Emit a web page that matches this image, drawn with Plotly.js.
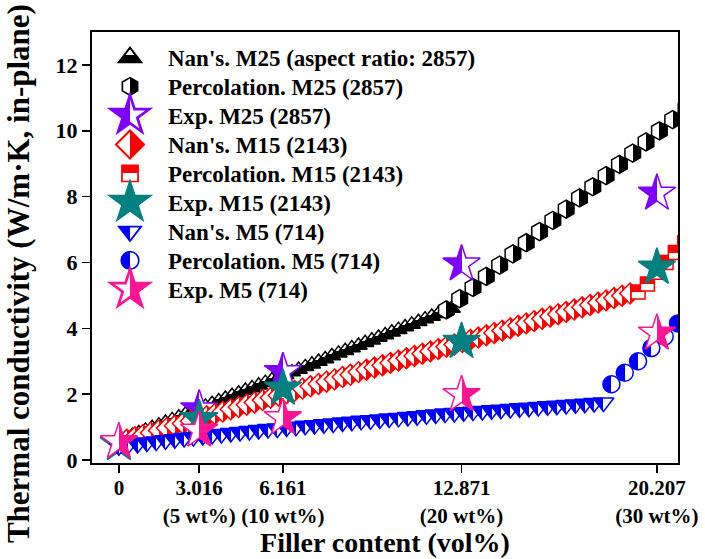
<!DOCTYPE html>
<html>
<head>
<meta charset="utf-8">
<script src="https://cdn.plot.ly/plotly-3.0.1.min.js"></script>
<style>html,body{margin:0;padding:0;background:#fff;}#chart{width:705px;height:559px;}</style>
</head>
<body>
<div id="chart"></div>
<script>
// ---- data ----
var tickVals = [0, 3.016, 6.161, 12.871, 20.207];
var tickText = ['0', '3.016<br>(5 wt%)', '6.161<br>(10 wt%)', '12.871<br>(20 wt%)', '20.207<br>(30 wt%)'];

var nanM25X = [0,0.25,0.5,0.75,1,1.25,1.5,1.75,2,2.25,2.5,2.75,3,3.25,3.5,3.75,4,4.25,4.5,4.75,5,5.25,5.5,5.75,6,6.25,6.5,6.75,7,7.25,7.5,7.75,8,8.25,8.5,8.75,9,9.25,9.5,9.75,10,10.25,10.5,10.75,11,11.25,11.5,11.75,12,12.25,12.5];
var nanM25Y = [0.58,0.66,0.74,0.82,0.90,0.98,1.06,1.14,1.22,1.30,1.39,1.47,1.55,1.63,1.71,1.79,1.87,1.95,2.03,2.11,2.19,2.27,2.35,2.43,2.51,2.59,2.67,2.75,2.83,2.91,2.99,3.07,3.16,3.24,3.32,3.40,3.48,3.56,3.64,3.72,3.80,3.88,3.96,4.04,4.12,4.20,4.28,4.36,4.44,4.52,4.60];

var percM25X = [12.3,12.8,13.3,13.8,14.3,14.8,15.3,15.8,16.3,16.8,17.3,17.8,18.3,18.8,19.3,19.8,20.3,20.8,21.3];
var percM25Y = [4.56,4.90,5.24,5.58,5.92,6.26,6.60,6.94,7.28,7.62,7.96,8.30,8.64,8.98,9.32,9.66,10.00,10.34,10.68];

var expX = [0, 3.016, 6.161, 12.871, 20.207];
var expM25Y = [0.50, 1.55, 2.68, 5.95, 8.10];
var expM15Y = [0.50, 1.25, 2.18, 3.60, 5.85];
var expM5Y  = [0.55, 0.90, 1.28, 1.98, 3.85];

var nanM15X = [0,0.3,0.6,0.9,1.2,1.5,1.8,2.1,2.4,2.7,3.0,3.3,3.6,3.9,4.2,4.5,4.8,5.1,5.4,5.7,6.0,6.3,6.6,6.9,7.2,7.5,7.8,8.1,8.4,8.7,9.0,9.3,9.6,9.9,10.2,10.5,10.8,11.1,11.4,11.7,12.0,12.3,12.6,12.9,13.2,13.5,13.8,14.1,14.4,14.7,15.0,15.3,15.6,15.9,16.2,16.5,16.8,17.1,17.4,17.7,18.0,18.3,18.6,18.9,19.2];
var nanM15Y = [0.55,0.62,0.69,0.76,0.83,0.90,0.97,1.04,1.11,1.18,1.26,1.33,1.40,1.47,1.54,1.61,1.68,1.75,1.82,1.89,1.96,2.03,2.10,2.17,2.24,2.31,2.38,2.45,2.52,2.59,2.67,2.74,2.81,2.88,2.95,3.02,3.09,3.16,3.23,3.30,3.37,3.44,3.51,3.58,3.65,3.72,3.79,3.86,3.93,4.00,4.08,4.15,4.22,4.29,4.36,4.43,4.50,4.57,4.64,4.71,4.78,4.85,4.92,4.99,5.06];

var percM15X = [19.5,19.85,20.2,20.55,20.9,21.25];
var percM15Y = [5.10,5.35,5.70,6.00,6.30,6.60];

var nanM5X = [0,0.35,0.7,1.05,1.4,1.75,2.1,2.45,2.8,3.15,3.5,3.85,4.2,4.55,4.9,5.25,5.6,5.95,6.3,6.65,7.0,7.35,7.7,8.05,8.4,8.75,9.1,9.45,9.8,10.15,10.5,10.85,11.2,11.55,11.9,12.25,12.6,12.95,13.3,13.65,14.0,14.35,14.7,15.05,15.4,15.75,16.1,16.45,16.8,17.15,17.5,17.85,18.2];
var nanM5Y = [0.42,0.46,0.49,0.53,0.56,0.60,0.63,0.67,0.70,0.73,0.76,0.79,0.82,0.85,0.88,0.91,0.94,0.96,0.99,1.01,1.04,1.06,1.09,1.11,1.14,1.16,1.19,1.21,1.23,1.26,1.28,1.31,1.33,1.36,1.38,1.41,1.43,1.45,1.47,1.49,1.51,1.53,1.55,1.57,1.59,1.61,1.63,1.65,1.67,1.69,1.71,1.73,1.75];

var percM5X = [18.5,19.0,19.5,20.0,20.5,21.0];
var percM5Y = [2.30,2.65,3.00,3.40,3.75,4.15];

var names = ["Nan's. M25 (aspect ratio: 2857)", "Percolation. M25 (2857)", "Exp. M25 (2857)",
             "Nan's. M15 (2143)", "Percolation. M15 (2143)", "Exp. M15 (2143)",
             "Nan's. M5 (714)", "Percolation. M5 (714)", "Exp. M5 (714)"];

// ---- styling ----
var FONT = 'Liberation Serif, Times New Roman, serif';
var PURPLE = '#7F00FF', TEAL = '#008080', PINK = '#FF1493', RED = '#FF0000', BLUE = '#0000FF';

function tr(x, y, name, symbol, size, fill, grad, gtype, line) {
  var m = {symbol: symbol, size: size, color: fill, line: {color: line, width: 1.5}};
  if (grad) m.gradient = {type: gtype, color: grad};
  return {x: x, y: y, name: name, type: 'scatter', mode: 'markers', marker: m, cliponaxis: true};
}

var data = [
  tr(nanM25X, nanM25Y, names[0], 'triangle-up', 15, '#ffffff', '#000000', 'vertical', '#000000'),
  tr(percM25X, percM25Y, names[1], 'hexagon', 18, '#ffffff', '#000000', 'horizontal', '#000000'),
  tr(expX, expM25Y, names[2], 'star', 28, PURPLE, '#ffffff', 'horizontal', PURPLE),
  tr(nanM15X, nanM15Y, names[3], 'diamond', 16, '#ffffff', RED, 'horizontal', RED),
  tr(percM15X, percM15Y, names[4], 'square', 14, RED, '#ffffff', 'vertical', RED),
  tr(expX, expM15Y, names[5], 'star', 28, TEAL, null, null, TEAL),
  tr(nanM5X, nanM5Y, names[6], 'triangle-down', 18, BLUE, '#ffffff', 'horizontal', BLUE),
  tr(percM5X, percM5Y, names[7], 'circle', 17, BLUE, '#ffffff', 'horizontal', BLUE),
  tr(expX, expM5Y, names[8], 'star', 28, '#ffffff', PINK, 'horizontal', PINK)
];

// legend symbol enlargement per entry (legend caps marker size)
var legendScale = [1.3, 1.1, 1.8, 1.35, 1.15, 1.8, 1.2, 1.1, 1.8];
var legendRowGap = 29;

var layout = {
  width: 705, height: 559,
  margin: {l: 92, r: 27, t: 32, b: 96},
  paper_bgcolor: '#ffffff', plot_bgcolor: '#ffffff',
  font: {family: FONT, color: '#000000'},
  showlegend: true,
  legend: {x: 0.0, y: 1.0, xanchor: 'left', yanchor: 'top', bgcolor: 'rgba(0,0,0,0)',
           font: {family: FONT, size: 23, weight: 'bold', color: '#000000'}, itemwidth: 66, tracegroupgap: 0},
  xaxis: {
    range: [-1.01, 21.0], tickmode: 'array', tickvals: tickVals, ticktext: tickText, tickangle: 0,
    ticks: 'outside', ticklen: 8, tickwidth: 1.5, tickcolor: '#000', ticklabelstandoff: -3,
    showline: true, mirror: true, linewidth: 2, linecolor: '#000',
    showgrid: false, zeroline: false,
    tickfont: {family: FONT, size: 21, weight: 'bold', color: '#000'},
    title: {text: 'Filler content (vol%)', font: {family: FONT, size: 28, weight: 'bold', color: '#000'}, standoff: 6}
  },
  yaxis: {
    range: [-0.09, 13.0], tickmode: 'linear', tick0: 0, dtick: 2,
    ticks: 'outside', ticklen: 8, tickwidth: 1.5, tickcolor: '#000',
    showline: true, mirror: true, linewidth: 2, linecolor: '#000',
    showgrid: false, zeroline: false,
    tickfont: {family: FONT, size: 22, weight: 'bold', color: '#000'}
  },
  annotations: [{
    text: 'Thermal conductivity (W/m·K, in-plane)', textangle: -90,
    xref: 'paper', yref: 'paper', x: -0.125, y: 0.44, xanchor: 'center', yanchor: 'middle',
    showarrow: false, font: {family: FONT, size: 31, weight: 'bold', color: '#000'}
  }]
};

function polish() {
  var grads = document.querySelectorAll('linearGradient');
  for (var i = 0; i < grads.length; i++) {
    var stops = grads[i].querySelectorAll('stop');
    for (var j = 0; j < stops.length; j++) stops[j].setAttribute('offset', '50%');
  }
  var items = document.querySelectorAll('.legend .traces');
  var y0 = null;
  for (var k = 0; k < items.length; k++) {
    var pts = items[k].querySelectorAll('path.scatterpts');
    for (var p = 0; p < pts.length; p++) {
      var t = pts[p].getAttribute('transform') || '';
      pts[p].setAttribute('transform', t + ' scale(' + legendScale[k] + ')');
    }
    var tf = items[k].getAttribute('transform') || '';
    var m = /translate\(\s*([-\d.]+)[ ,]+([-\d.]+)\s*\)/.exec(tf);
    if (m) {
      if (y0 === null) y0 = parseFloat(m[2]) + 4;
      items[k].setAttribute('transform', 'translate(' + m[1] + ',' + (y0 + k * legendRowGap) + ')');
    }
  }
}

Plotly.newPlot('chart', data, layout, {staticPlot: true, displayModeBar: false}).then(polish);
</script>
</body>
</html>
